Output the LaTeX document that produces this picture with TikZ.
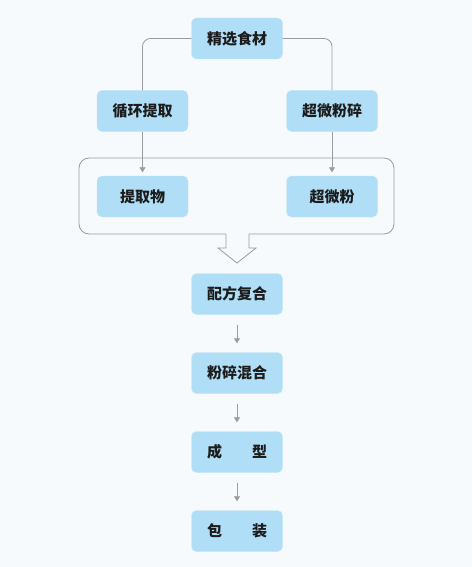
\documentclass[tikz,border=0pt]{standalone}
\usepackage{fontspec}
\newfontfamily\cjk{Noto Sans CJK SC}
\usetikzlibrary{arrows.meta}
\definecolor{bgc}{HTML}{F7FAFC}
\definecolor{boxc}{HTML}{AFDEF6}
\definecolor{rimc}{HTML}{C4E7F8}
\definecolor{linec}{HTML}{9C9C9C}
\definecolor{txtc}{HTML}{1C1C1C}
\tikzset{
  stepbox/.style={draw=rimc, fill=boxc, rounded corners=5pt, minimum width=91pt,
    minimum height=41pt, inner sep=0pt, text=txtc, font=\cjk\bfseries\fontsize{15}{18}\selectfont},
  link/.style={draw=linec, line width=0.8pt},
  arr/.style={link, -{Triangle[width=6pt,length=5pt]}}
}
\begin{document}
\begin{tikzpicture}[x=1pt,y=-1pt]
\fill[bgc] (0,0) rectangle (472,567);
\useasboundingbox (0,0) rectangle (472,567);
\node[stepbox] (A) at (237,38.5) {精选食材};
\node[stepbox] (B) at (142.5,111) {循环提取};
\node[stepbox] (C) at (332,111) {超微粉碎};
\node[stepbox] (D) at (142.5,196.5) {提取物};
\node[stepbox] (E) at (332,196.5) {超微粉};
\node[stepbox] (F) at (237,294) {配方复合};
\node[stepbox] (G) at (237,373) {粉碎混合};
\node[stepbox] (H) at (237,452) {成\hspace{2em}型};
\node[stepbox] (I) at (237,531) {包\hspace{2em}装};
% split
\draw[link, rounded corners=8pt] (A.west) -| (B.north);
\draw[link, rounded corners=8pt] (A.east) -| (C.north);
\draw[arr, shorten >=3.5pt] (B) -- (D);
\draw[arr, shorten >=3.5pt] (C) -- (E);
% frame and big arrow
\draw[link, rounded corners=10pt] (226,234) -| (79,158) -| (394,234) -- (249,234);
\draw[link] (226,234) -- (226,248) -- (218,248) -- (237,263) -- (256,248) -- (249,248) -- (249,234);
% steps
\draw[arr, shorten <=10pt, shorten >=9pt] (F) -- (G);
\draw[arr, shorten <=10pt, shorten >=9pt] (G) -- (H);
\draw[arr, shorten <=10pt, shorten >=9pt] (H) -- (I);
\end{tikzpicture}
\end{document}
